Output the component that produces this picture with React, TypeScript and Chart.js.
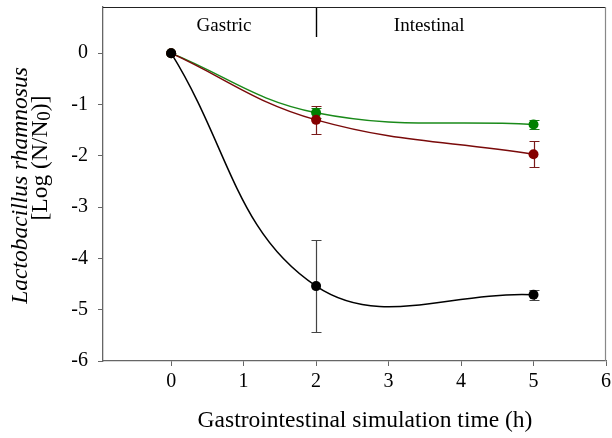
import React, { useEffect, useRef } from "react";
import { Chart, registerables } from "chart.js";
Chart.register(...registerables);

const times = [0, 2, 5];
const blackMean = [0, -4.54, -4.71];
const blackErr = [0, 0.89, 0.1];
const redMean = [0, -1.3, -1.97];
const redErr = [0, 0.27, 0.25];
const greenMean = [0, -1.16, -1.39];
const greenErr = [0, 0.1, 0.08];
const xTicks = [0, 1, 2, 3, 4, 5, 6];
const yTicks = [0, -1, -2, -3, -4, -5, -6];
const phaseLabels = ["Gastric", "Intestinal"];
const phaseLabelX = [0.73, 3.56];
const phaseDividerX = 2;

const FONT = "'Liberation Serif', 'Times New Roman', serif";

const errorBarPlugin = {
  id: "errbars",
  beforeDatasetsDraw(chart: any) {
    const ctx = chart.ctx;
    const x = chart.scales.x;
    const y = chart.scales.y;
    chart.data.datasets.forEach((ds: any) => {
      const errs = ds.errors as number[];
      ctx.save();
      ctx.strokeStyle = ds.errColor;
      ctx.lineWidth = 1.2;
      ds.data.forEach((p: any, i: number) => {
        const e = errs[i];
        if (!e) return;
        const px = Math.round(x.getPixelForValue(p.x)) + 0.5;
        const top = Math.round(y.getPixelForValue(p.y + e)) + 0.5;
        const bot = Math.round(y.getPixelForValue(p.y - e)) + 0.5;
        ctx.beginPath();
        ctx.moveTo(px, top);
        ctx.lineTo(px, bot);
        ctx.moveTo(px - 5, top);
        ctx.lineTo(px + 5, top);
        ctx.moveTo(px - 5, bot);
        ctx.lineTo(px + 5, bot);
        ctx.stroke();
      });
      ctx.restore();
    });
  },
  afterDraw(chart: any) {
    const ctx = chart.ctx;
    const x = chart.scales.x;
    const a = chart.chartArea;
    ctx.save();
    // frame top/right
    ctx.lineWidth = 1.2;
    ctx.strokeStyle = "#222";
    ctx.beginPath();
    ctx.moveTo(a.left, a.top + 0.5);
    ctx.lineTo(a.right, a.top + 0.5);
    ctx.stroke();
    ctx.strokeStyle = "#888";
    ctx.beginPath();
    ctx.moveTo(a.right - 0.5, a.top);
    ctx.lineTo(a.right - 0.5, a.bottom);
    ctx.stroke();
    // divider
    const dx = Math.round(x.getPixelForValue(phaseDividerX)) + 0.5;
    ctx.strokeStyle = "#000";
    ctx.lineWidth = 1.4;
    ctx.beginPath();
    ctx.moveTo(dx, a.top + 1);
    ctx.lineTo(dx, a.top + 30);
    ctx.stroke();
    // phase labels
    ctx.fillStyle = "#000";
    ctx.font = `19px ${FONT}`;
    ctx.textAlign = "center";
    ctx.textBaseline = "alphabetic";
    phaseLabels.forEach((t, i) => {
      ctx.fillText(t, x.getPixelForValue(phaseLabelX[i]), 31);
    });
    // x title
    ctx.font = `23.5px ${FONT}`;
    ctx.textBaseline = "middle";
    ctx.fillText("Gastrointestinal simulation time (h)", 365, 421);
    ctx.restore();

    // y title line 1
    ctx.save();
    ctx.fillStyle = "#000";
    ctx.translate(21, 185.5);
    ctx.rotate(-Math.PI / 2);
    ctx.font = `italic 23.5px ${FONT}`;
    ctx.textAlign = "center";
    ctx.textBaseline = "middle";
    ctx.fillText("Lactobacillus rhamnosus", 0, 0);
    ctx.restore();

    // y title line 2 with subscript
    ctx.save();
    ctx.fillStyle = "#000";
    ctx.translate(41, 158);
    ctx.rotate(-Math.PI / 2);
    ctx.textBaseline = "middle";
    ctx.textAlign = "left";
    const p1 = "[Log (N/N";
    const p2 = "0";
    const p3 = ")]";
    ctx.font = `23.5px ${FONT}`;
    const w1 = ctx.measureText(p1).width;
    const w3 = ctx.measureText(p3).width;
    ctx.font = `19px ${FONT}`;
    const w2 = ctx.measureText(p2).width;
    let sx = -(w1 + w2 + w3) / 2;
    ctx.font = `23.5px ${FONT}`;
    ctx.fillText(p1, sx, 0);
    sx += w1;
    ctx.font = `19px ${FONT}`;
    ctx.fillText(p2, sx, 4);
    sx += w2;
    ctx.font = `23.5px ${FONT}`;
    ctx.fillText(p3, sx, 0);
    ctx.restore();
  },
};

export default function App() {
  const ref = useRef<HTMLCanvasElement>(null);
  useEffect(() => {
    const mk = (vals: number[]) => times.map((t, i) => ({ x: t, y: vals[i] }));
    const chart = new Chart(ref.current!, {
      type: "line",
      data: {
        datasets: [
          {
            data: mk(blackMean),
            errors: blackErr,
            errColor: "#444",
            borderColor: "#000",
            backgroundColor: "#000",
            pointBorderColor: "#000",
            borderWidth: 1.5,
            pointRadius: 5,
            pointBorderWidth: 0,
            tension: 0.4,
          } as any,
          {
            data: mk(redMean),
            errors: redErr,
            errColor: "#7a1a1a",
            borderColor: "#7a0a0a",
            backgroundColor: "#850000",
            pointBorderColor: "#850000",
            borderWidth: 1.5,
            pointRadius: 5,
            pointBorderWidth: 0,
            tension: 0.4,
          } as any,
          {
            data: mk(greenMean),
            errors: greenErr,
            errColor: "#1a7a1a",
            borderColor: "#1a8a1a",
            backgroundColor: "#008000",
            pointBorderColor: "#008000",
            borderWidth: 1.5,
            pointRadius: 5,
            pointBorderWidth: 0,
            tension: 0.4,
          } as any,
        ],
      },
      options: {
        animation: false,
        responsive: false,
        maintainAspectRatio: false,
        layout: { padding: { top: 7, right: 6, left: 0, bottom: 0 } },
        plugins: { legend: { display: false }, tooltip: { enabled: false } },
        scales: {
          x: {
            type: "linear",
            min: -0.94,
            max: 6,
            afterBuildTicks: (s: any) => {
              s.ticks = xTicks.map((v) => ({ value: v }));
            },
            afterFit: (s: any) => {
              s.height = 77;
              s.paddingLeft = 0;
              s.paddingRight = 0;
            },
            grid: { drawOnChartArea: false, tickLength: 5, color: "#666" },
            border: { color: "#666", width: 1.3 },
            ticks: { color: "#000", font: { family: FONT, size: 20 }, padding: 4, maxRotation: 0 },
          },
          y: {
            type: "linear",
            min: -6,
            max: 0.9,
            afterBuildTicks: (s: any) => {
              s.ticks = yTicks.map((v) => ({ value: v }));
            },
            afterFit: (s: any) => {
              s.width = 103;
              s.paddingTop = 0;
              s.paddingBottom = 0;
            },
            grid: { drawOnChartArea: false, tickLength: 5, color: "#666" },
            border: { color: "#666", width: 1.3 },
            ticks: { color: "#000", font: { family: FONT, size: 20 }, padding: 10 },
          },
        },
      },
      plugins: [errorBarPlugin],
    } as any);
    return () => chart.destroy();
  }, []);
  return (
    <div style={{ position: "absolute", left: 0, top: 0, width: 612, height: 438, background: "#fff" }}>
      <canvas ref={ref} width={612} height={438} style={{ display: "block" }} />
    </div>
  );
}
